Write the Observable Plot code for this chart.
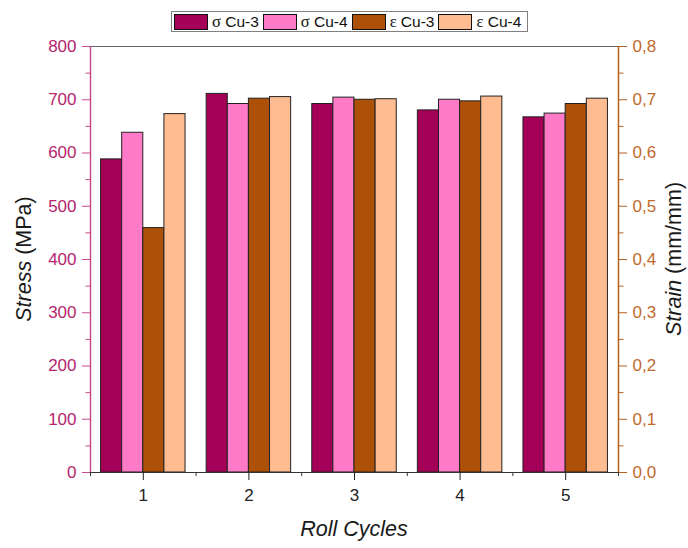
<!DOCTYPE html>
<html><head><meta charset="utf-8">
<script src="https://cdn.jsdelivr.net/npm/d3@7"></script>
<script src="https://cdn.jsdelivr.net/npm/@observablehq/plot@0.6"></script>
<style>
body{margin:0;background:#fff;font-family:"Liberation Sans",Arial,sans-serif;}
#wrap{width:688px;height:548px;position:relative;overflow:hidden;background:#fff}
#legend{position:absolute;z-index:2;left:171px;top:11px;height:21px;border:1px solid #808080;display:flex;align-items:center;padding:0 2px;background:#fff;box-sizing:border-box}
.sw{width:34px;height:16px;border:1px solid #111;box-sizing:border-box;margin-right:4px}
.lt{font-size:15.5px;margin-right:4px;white-space:nowrap;color:#111}
.gr{font-family:"Liberation Serif","DejaVu Serif",serif;font-size:16.5px}
#chart{position:absolute;z-index:1;left:0;top:0}
</style></head>
<body>
<div id="wrap"><div id="chart"></div><div id="legend"></div></div>
<script>
const cycles = [1, 2, 3, 4, 5];
const seriesNames = ["σ Cu-3", "σ Cu-4", "ε Cu-3", "ε Cu-4"];
const stressCu3 = [588, 711, 692, 680, 667];
const stressCu4 = [638, 692, 704, 700, 674];
const strainCu3 = [0.459, 0.702, 0.700, 0.697, 0.692];
const strainCu4 = [0.673, 0.705, 0.701, 0.706, 0.702];
const colors = ["#A50057", "#FF7BC8", "#AD5008", "#FFBC91"];
const stressTicks = [0, 100, 200, 300, 400, 500, 600, 700, 800];
const strainTicks = [0.0, 0.1, 0.2, 0.3, 0.4, 0.5, 0.6, 0.7, 0.8];
const xTitle = "Roll Cycles";

// strain shares the stress scale: 0.8 mm/mm <-> 800 MPa
const strainToStress = 1000;

const rows = [];
cycles.forEach((c, i) => {
  const vals = [stressCu3[i], stressCu4[i], strainCu3[i] * strainToStress, strainCu4[i] * strainToStress];
  vals.forEach((v, k) => rows.push({cycle: c, series: seriesNames[k], k, y: v}));
});

const pinkLine = "#C94B8E", pinkText = "#B5246E";
const orLine = "#B8601E", orText = "#BF6A2C";
const minorY = stressTicks.slice(0, -1).map(t => t + 50);
const minorX = [0.5, 1.5, 2.5, 3.5, 4.5, 5.5];

const plot = Plot.plot({
  width: 688, height: 548,
  marginTop: 46, marginBottom: 76, marginLeft: 90, marginRight: 70,
  style: {fontFamily: "Liberation Sans, Arial, sans-serif", background: "#fff"},
  x: {domain: [0.5, 5.5], axis: null},
  y: {domain: [0, 800], axis: null},
  color: {domain: seriesNames, range: colors},
  marks: [
    Plot.rectY(rows, {
      x1: d => d.cycle - 0.4 + d.k * 0.2,
      x2: d => d.cycle - 0.2 + d.k * 0.2,
      y: "y", fill: "series", stroke: "#222", strokeWidth: 1
    }),
    Plot.ruleY([800], {stroke: "#666", strokeWidth: 1.2}),
    Plot.ruleY([0], {stroke: "#333", strokeWidth: 1.2}),
    Plot.ruleX([0.5], {y1: 0, y2: 800, stroke: pinkLine, strokeWidth: 1.5}),
    Plot.ruleX([5.5], {y1: 0, y2: 800, stroke: orLine, strokeWidth: 1.5}),
    Plot.axisY({anchor: "left", ticks: stressTicks, tickSize: 8, tickPadding: 6, fontSize: 17, color: pinkText, stroke: pinkLine, label: null, tickFormat: d => String(d)}),
    Plot.axisY({anchor: "left", ticks: minorY, tickSize: 4.5, text: null, stroke: pinkLine, label: null}),
    Plot.axisY({anchor: "right", ticks: strainTicks.map(t => t * strainToStress), tickSize: 8, tickPadding: 6, fontSize: 17, color: orText, stroke: orLine, label: null,
      tickFormat: d => (d / strainToStress).toFixed(1).replace(".", ",")}),
    Plot.axisY({anchor: "right", ticks: minorY, tickSize: 4.5, text: null, stroke: orLine, label: null}),
    Plot.axisX({anchor: "bottom", ticks: cycles, tickSize: 8, tickPadding: 8, fontSize: 17, color: "#222", label: null, tickFormat: d => String(d)}),
    Plot.axisX({anchor: "bottom", ticks: minorX, tickSize: 4, text: null, stroke: "#333", label: null})
  ]
});

const svg = d3.select(plot);
function title(x, y, rot, parts) {
  const t = svg.append("text")
    .attr("transform", `translate(${x},${y})` + (rot ? ` rotate(${rot})` : ""))
    .attr("text-anchor", "middle")
    .attr("font-size", 21.5)
    .attr("fill", "#1a1a1a")
    .attr("font-family", "Liberation Sans, Arial, sans-serif");
  parts.forEach(([s, it]) => t.append("tspan").attr("font-style", it ? "italic" : "normal").text(s));
}
title(31, 259, -90, [["Stress", true], [" (MPa)", false]]);
title(681, 259, -90, [["Strain", true], [" (mm/mm)", false]]);
title(354, 536, 0, [[xTitle, true]]);

document.getElementById("chart").appendChild(plot);

const leg = d3.select("#legend");
seriesNames.forEach((n, i) => {
  leg.append("div").attr("class", "sw").style("background", colors[i]);
  const lt = leg.append("div").attr("class", "lt");
  lt.append("span").attr("class", "gr").text(n.slice(0, 1));
  lt.append("span").text(n.slice(1));
});
</script>
</body></html>
